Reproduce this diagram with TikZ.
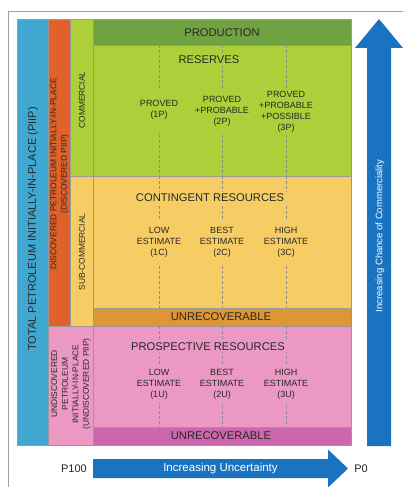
\documentclass[tikz,border=0pt]{standalone}
\usepackage{fontspec}
\setmainfont{Liberation Sans}
\definecolor{colblue}{RGB}{64,168,208}
\definecolor{colorange}{RGB}{224,98,42}
\definecolor{prodgreen}{RGB}{112,162,66}
\definecolor{resgreen}{RGB}{172,207,58}
\definecolor{contyellow}{RGB}{245,205,100}
\definecolor{unrecorange}{RGB}{222,149,52}
\definecolor{prospink}{RGB}{236,152,196}
\definecolor{unrecpink}{RGB}{206,102,174}
\definecolor{arrowblue}{RGB}{26,115,192}
\definecolor{txt}{RGB}{40,40,40}
\definecolor{framegray}{RGB}{160,160,160}
\tikzset{
  region/.style={draw=black!40, line width=0.5pt},
  lab/.style={font=\fontsize{9}{11}\selectfont, align=center, text=txt, inner xsep=2pt, inner ysep=0pt, minimum height=44pt},
  headtxt/.style={font=\fontsize{11.2}{13}\selectfont, text=txt, inner sep=2.5pt},
  sidetxt/.style={font=\fontsize{8.4}{10.6}\selectfont, rotate=90, align=center, text=txt, inner sep=0pt},
  dline/.style={draw=black!45, line width=0.45pt, dash pattern=on 3pt off 2pt},
  arrtxt/.style={text=white, inner sep=0pt}
}
\begin{document}
\begin{tikzpicture}[x=1pt,y=-1pt]
\useasboundingbox (0,0) rectangle (403,487);
\fill[white] (0,0) rectangle (403,487);
% frame
\draw[framegray, line width=0.8pt] (8,487) -- (8,11) -- (403,11);
% left columns
\fill[colblue, region] (17,19) rectangle (48,445);
\fill[colorange, region] (48,19) rectangle (70,326);
\fill[resgreen, region] (70,19) rectangle (93,176);
\fill[contyellow, region] (70,176) rectangle (93,326);
\fill[prospink, region] (48,326) rectangle (93,445);
% main area
\fill[prodgreen, region] (93,19) rectangle (351,45);
\fill[resgreen, region] (93,45) rectangle (351,176);
\fill[contyellow, region] (93,176) rectangle (351,308);
\fill[unrecorange, region] (93,308) rectangle (351,326);
\fill[prospink, region] (93,326) rectangle (351,427);
\fill[unrecpink, region] (93,427) rectangle (351,445);
% dashed dividers
\foreach \x in {159,222,286}{
  \draw[dline] (\x,45) -- (\x,176);
  \draw[dline] (\x,176) -- (\x,308);
  \draw[dline] (\x,326) -- (\x,427);
}
% headings
\node[headtxt] (production) at (222,33) {PRODUCTION};
\node[headtxt, fill=resgreen] (reserves) at (209,60) {RESERVES};
\node[headtxt, fill=contyellow] (contingent) at (210,198) {CONTINGENT RESOURCES};
\node[headtxt] (unrec1) at (221,317) {UNRECOVERABLE};
\node[headtxt, fill=prospink] (prospective) at (208,347) {PROSPECTIVE RESOURCES};
\node[headtxt] (unrec2) at (221,436) {UNRECOVERABLE};
% reserves labels
\node[lab, fill=resgreen] (p1) at (159,110) {PROVED\\(1P)};
\node[lab, fill=resgreen] (p2) at (222,111) {PROVED\\+PROBABLE\\(2P)};
\node[lab, fill=resgreen] (p3) at (286,112) {PROVED\\+PROBABLE\\+POSSIBLE\\(3P)};
% contingent labels
\node[lab, fill=contyellow, minimum height=46pt] (c1) at (159,242) {LOW\\ESTIMATE\\(1C)};
\node[lab, fill=contyellow, minimum height=46pt] (c2) at (222,242) {BEST\\ESTIMATE\\(2C)};
\node[lab, fill=contyellow, minimum height=46pt] (c3) at (286,242) {HIGH\\ESTIMATE\\(3C)};
% prospective labels
\node[lab, fill=prospink, minimum height=38pt] (u1) at (159,384) {LOW\\ESTIMATE\\(1U)};
\node[lab, fill=prospink, minimum height=38pt] (u2) at (222,384) {BEST\\ESTIMATE\\(2U)};
\node[lab, fill=prospink, minimum height=38pt] (u3) at (286,384) {HIGH\\ESTIMATE\\(3U)};
% side labels
\node[sidetxt, font=\fontsize{11}{13}\selectfont] (piip) at (33,229) {TOTAL PETROLEUM INITIALLY-IN-PLACE (PIIP)};
\node[sidetxt] (dpiip) at (59.5,174) {DISCOVERED PETROLEUM INITIALLY-IN-PLACE\\(DISCOVERED PIIP)};
\node[sidetxt] (comm) at (82,100) {COMMERCIAL};
\node[sidetxt] (subcomm) at (82,252) {SUB-COMMERCIAL};
\node[sidetxt] (upiip) at (71,384) {UNDISCOVERED\\PETROLEUM\\INITIALLY-IN-PLACE\\(UNDISCOVERED PIIP)};
% vertical arrow
\fill[arrowblue] (367,446) -- (367,48) -- (355,48) -- (379,19) -- (403,48) -- (391,48) -- (391,446) -- cycle;
\node[arrtxt, rotate=90, font=\fontsize{9.5}{11}\selectfont] (chance) at (380,236) {Increasing Chance of Commerciality};
% horizontal arrow
\fill[arrowblue] (93,459) -- (328,459) -- (328,449.5) -- (348,468.5) -- (328,487.5) -- (328,478) -- (93,478) -- cycle;
\node[arrtxt, font=\fontsize{11.5}{13}\selectfont] (uncert) at (220.5,468.5) {Increasing Uncertainty};
\node[text=txt, font=\fontsize{11}{13}\selectfont, inner sep=0pt] (p100) at (74,468.5) {P100};
\node[text=txt, font=\fontsize{11}{13}\selectfont, inner sep=0pt] (p0) at (361,468.5) {P0};
\end{tikzpicture}
\end{document}
